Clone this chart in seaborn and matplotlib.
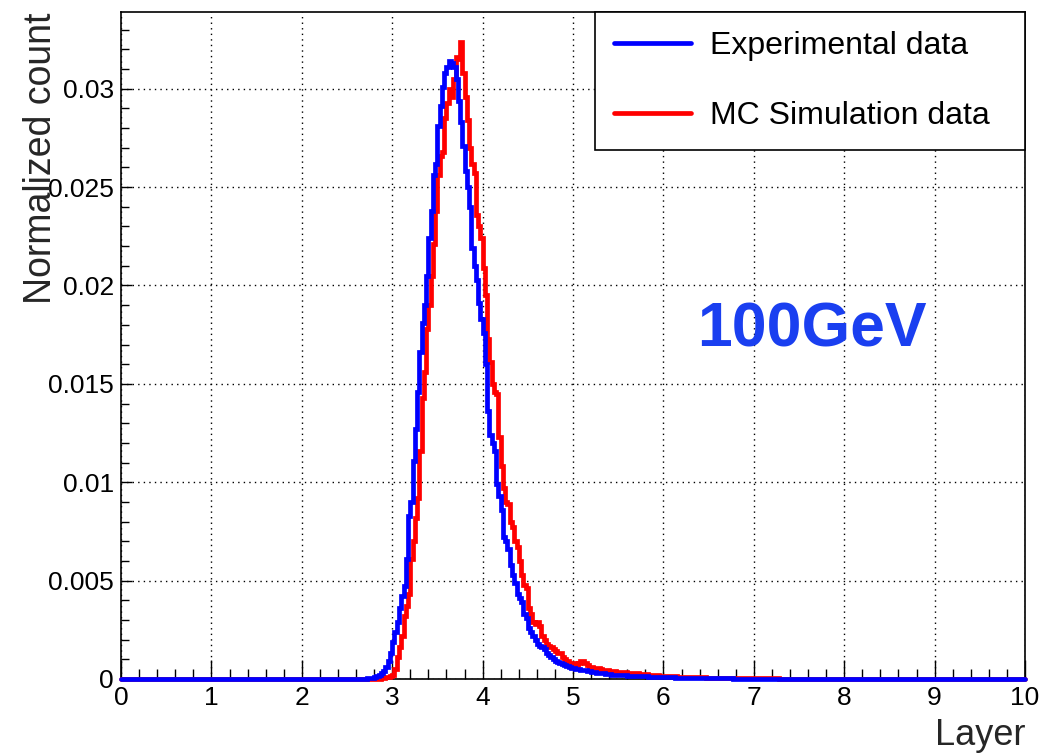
import numpy as np
import pandas as pd
import matplotlib
matplotlib.use("Agg")
import matplotlib.pyplot as plt
import seaborn as sns
from matplotlib.ticker import MultipleLocator, FixedLocator, FixedFormatter

# ---------------- data ----------------
n_bins = 400
x_min, x_max = 0.0, 10.0

# Experimental data: bin contents starting at Layer = 2.700 (bin width 0.025)
exp_start = 2.700
exp_counts = [
    0.00002, 0.00003, 0.00005, 0.00007, 0.0001, 0.00015, 0.0002, 0.0003, 0.0004, 0.0006,
    0.0009, 0.0013, 0.0019, 0.0024, 0.0029, 0.0036, 0.0042, 0.0047, 0.0061, 0.0083,
    0.0090, 0.0111, 0.0127, 0.0146, 0.0166, 0.0181, 0.0190, 0.0205, 0.0224, 0.0238,
    0.0256, 0.0262, 0.0281, 0.0291, 0.0301, 0.0308, 0.0311, 0.0314, 0.0313, 0.0311,
    0.0305, 0.0294, 0.0283, 0.0271, 0.0258, 0.0250, 0.0240, 0.0219, 0.0210, 0.0203,
    0.0191, 0.0183, 0.0176, 0.0160, 0.0136, 0.0124, 0.0120, 0.0116, 0.0099, 0.0093,
    0.0086, 0.0072, 0.0070, 0.0066, 0.0058, 0.0053, 0.0049, 0.0043, 0.0041, 0.0039,
    0.0033, 0.0031, 0.0026, 0.0024, 0.0022, 0.0020, 0.0018, 0.0017, 0.0016, 0.0015,
    0.0013, 0.0012, 0.0011, 0.0010, 0.0009, 0.00085, 0.0008, 0.00075, 0.0007, 0.00065,
    0.0006, 0.00058, 0.00055, 0.00052, 0.0005, 0.00048, 0.00046, 0.00044, 0.0004, 0.00038,
    0.00036, 0.00034, 0.00032, 0.0003, 0.0003, 0.00028, 0.00026, 0.00025, 0.00024, 0.00022,
    0.00021, 0.0002, 0.0002, 0.00019, 0.00018, 0.00018, 0.00017, 0.00016, 0.00016, 0.00015,
    0.00015, 0.00014, 0.00014, 0.00013, 0.00013, 0.00012, 0.00012, 0.00011, 0.00011, 0.0001,
    0.0001, 0.0001, 0.00009, 0.00009, 0.00008, 0.00008, 0.00008, 0.00007, 0.00007, 0.00007,
    0.00006, 0.00006, 0.00006, 0.00006, 0.00005, 0.00005, 0.00005, 0.00005, 0.00004, 0.00004,
    0.00004, 0.00004, 0.00004, 0.00003, 0.00003, 0.00003, 0.00003, 0.00003, 0.00003, 0.00003,
    0.00003, 0.00003, 0.00003, 0.00002, 0.00002, 0.00002, 0.00002, 0.00002, 0.00002, 0.00002,
]

# MC simulation data: bin contents starting at Layer = 2.850 (bin width 0.025)
mc_start = 2.850
mc_counts = [
    0.00002, 0.00003, 0.00005, 0.00008, 0.0001, 0.00015, 0.0002, 0.0005, 0.0011, 0.0016,
    0.0022, 0.0032, 0.0037, 0.0043, 0.0061, 0.0070, 0.0082, 0.0092, 0.0116, 0.0143,
    0.0156, 0.0178, 0.0190, 0.0205, 0.0221, 0.0238, 0.0256, 0.0266, 0.0268, 0.0285,
    0.0293, 0.0300, 0.0296, 0.0305, 0.0316, 0.0315, 0.0324, 0.0308, 0.0296, 0.0284,
    0.0270, 0.0262, 0.0257, 0.0236, 0.0230, 0.0224, 0.0209, 0.0195, 0.0173, 0.0161,
    0.0150, 0.0146, 0.0145, 0.0123, 0.0108, 0.0097, 0.0090, 0.0089, 0.0080, 0.0077,
    0.0070, 0.0067, 0.0060, 0.0053, 0.0048, 0.0046, 0.0036, 0.0033, 0.0029, 0.0028,
    0.0029, 0.0027, 0.0022, 0.0020, 0.0018, 0.0017, 0.0016, 0.0015, 0.0014, 0.0013,
    0.0013, 0.0011, 0.0010, 0.0009, 0.0008, 0.0008, 0.0008, 0.0007, 0.0008, 0.0009,
    0.0009, 0.0008, 0.0007, 0.0006, 0.0006, 0.00058, 0.00056, 0.00055, 0.0005, 0.00048,
    0.00046, 0.00044, 0.00042, 0.0004, 0.00038, 0.00037, 0.00036, 0.00035, 0.00034, 0.00033,
    0.00032, 0.0003, 0.0003, 0.00029, 0.00028, 0.00027, 0.00026, 0.00025, 0.00024, 0.00022,
    0.0002, 0.0002, 0.00019, 0.00018, 0.00017, 0.00016, 0.00016, 0.00015, 0.00014, 0.00014,
    0.00013, 0.00013, 0.00012, 0.00012, 0.00011, 0.00011, 0.0001, 0.0001, 0.0001, 0.00009,
    0.00009, 0.00009, 0.00008, 0.00008, 0.00008, 0.00007, 0.00007, 0.00007, 0.00006, 0.00006,
    0.00006, 0.00006, 0.00005, 0.00005, 0.00005, 0.00005, 0.00005, 0.00004, 0.00004, 0.00004,
    0.00004, 0.00004, 0.00004, 0.00004, 0.00004, 0.00004, 0.00004, 0.00003, 0.00003, 0.00003,
    0.00003, 0.00003, 0.00003, 0.00003, 0.00003, 0.00003, 0.00003, 0.00002, 0.00002, 0.00002,
    0.00002, 0.00002, 0.00002, 0.00002, 0.00002, 0.00002, 0.00002,
]

series_labels = ["Experimental data", "MC Simulation data"]
series_colors = ["#0000ff", "#ff0000"]

x_ticks = [0, 1, 2, 3, 4, 5, 6, 7, 8, 9, 10]
x_tick_labels = ["0", "1", "2", "3", "4", "5", "6", "7", "8", "9", "10"]
y_ticks = [0.0, 0.005, 0.01, 0.015, 0.02, 0.025, 0.03]
y_tick_labels = ["0", "0.005", "0.01", "0.015", "0.02", "0.025", "0.03"]
y_max = 0.0339

energy_text = "100GeV"
x_label = "Layer"
y_label = "Normalized count"

# ---------------- build full histograms ----------------
bw = (x_max - x_min) / n_bins
edges = np.linspace(x_min, x_max, n_bins + 1)
centers = 0.5 * (edges[:-1] + edges[1:])


def full_hist(start, counts):
    h = np.zeros(n_bins)
    i0 = int(round((start - x_min) / bw))
    h[i0:i0 + len(counts)] = counts
    return h


exp_h = full_hist(exp_start, exp_counts)
mc_h = full_hist(mc_start, mc_counts)

df = pd.DataFrame({
    "Layer": np.concatenate([centers, centers]),
    "w": np.concatenate([exp_h, mc_h]),
    "series": [series_labels[0]] * n_bins + [series_labels[1]] * n_bins,
})

# ---------------- style ----------------
sns.set_theme(style="white")
plt.rcParams["font.family"] = ["Liberation Sans", "DejaVu Sans"]
plt.rcParams["axes.edgecolor"] = "black"
plt.rcParams["text.color"] = "black"
plt.rcParams["xtick.color"] = "black"
plt.rcParams["ytick.color"] = "black"

fig = plt.figure(figsize=(10.47, 7.56), dpi=100)
ax = fig.add_axes([0.1156, 0.1019, 0.8634, 0.8822])

# MC first, experimental on top
for lab, col in [(series_labels[1], series_colors[1]), (series_labels[0], series_colors[0])]:
    sub = df[df["series"] == lab]
    sns.histplot(data=sub, x="Layer", weights="w", binwidth=bw, binrange=(x_min, x_max),
                 element="step", fill=False, color=col, linewidth=3.4, ax=ax, label=lab)
    ln = ax.lines[-1]
    ln.set_clip_on(False)
    ln.set_zorder(3)
    ln.set_solid_joinstyle("miter")

ax.set_xlim(x_min, x_max)
ax.set_ylim(0, y_max)

# ticks
ax.xaxis.set_major_locator(FixedLocator(x_ticks))
ax.xaxis.set_major_formatter(FixedFormatter(x_tick_labels))
ax.xaxis.set_minor_locator(MultipleLocator(0.2))
ax.yaxis.set_major_locator(FixedLocator(y_ticks))
ax.yaxis.set_major_formatter(FixedFormatter(y_tick_labels))
ax.yaxis.set_minor_locator(MultipleLocator(0.001))
ax.tick_params(axis="x", which="major", direction="in", length=14, width=1.0,
               labelsize=19, pad=5, bottom=True, top=False)
ax.tick_params(axis="x", which="minor", direction="in", length=7, width=1.0,
               bottom=True, top=False)
ax.tick_params(axis="y", which="major", direction="in", length=8, width=1.0,
               labelsize=19, pad=5, left=True, right=False)
ax.tick_params(axis="y", which="minor", direction="in", length=6, width=1.0,
               left=True, right=False)

for s in ax.spines.values():
    s.set_visible(True)
    s.set_color("black")
    s.set_linewidth(1.2)

# grid
ax.grid(True, which="major", color="black", linestyle=(0, (1, 3)), linewidth=1.0)
ax.set_axisbelow(True)

# labels
ax.set_xlabel(x_label, fontsize=26, loc="right")
ax.xaxis.set_label_coords(1.0, -0.058)
ax.set_ylabel(y_label, fontsize=27, loc="top")
ax.yaxis.set_label_coords(-0.069, 1.0)

# legend
handles = [plt.Line2D([], [], color=series_colors[0], lw=3.4),
           plt.Line2D([], [], color=series_colors[1], lw=3.4)]
leg = ax.legend(handles, series_labels, loc="upper left",
                bbox_to_anchor=(0.524, 0.7916, 0.476, 0.2084), mode="expand",
                borderaxespad=0, fontsize=23, frameon=True, fancybox=False,
                edgecolor="black", framealpha=1, handlelength=2.4,
                handletextpad=0.6, labelspacing=1.25, borderpad=0.6)
leg.get_frame().set_linewidth(1.2)
leg.set_zorder(5)

# energy annotation
ax.text(0.637, 0.498, energy_text, transform=ax.transAxes, fontsize=45,
        fontweight="bold", color="#1a3ff0", ha="left", va="baseline")

fig.savefig("out.png", dpi=100, facecolor="white")
